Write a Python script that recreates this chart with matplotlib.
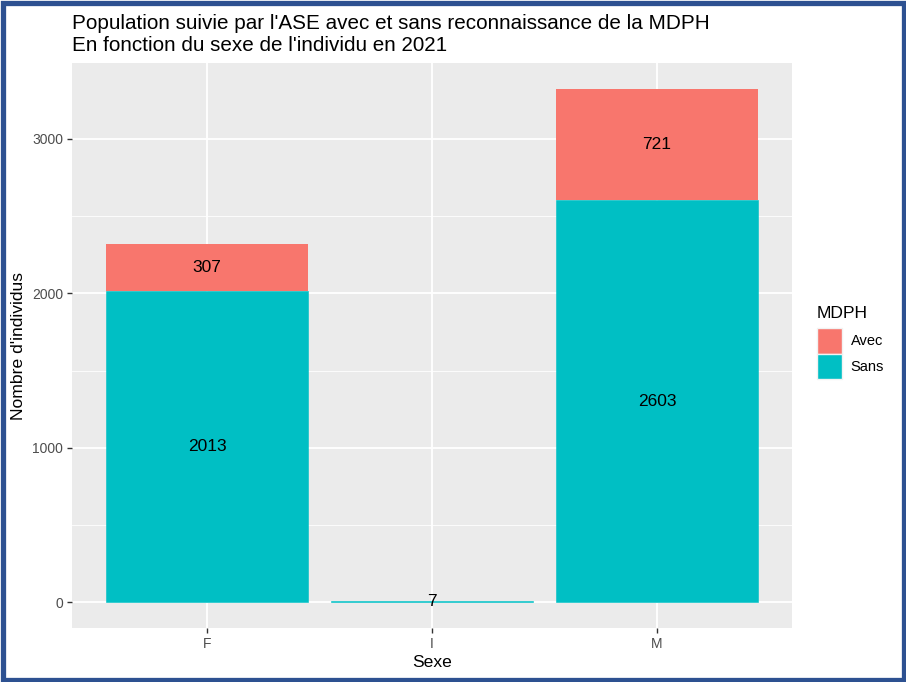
import matplotlib.pyplot as plt
from matplotlib.patches import Rectangle, Patch

plt.rcParams['font.family'] = ['Liberation Sans', 'DejaVu Sans']

sexes = ['F', 'I', 'M']
sans = [2013, 7, 2603]
avec = [307, 0, 721]
groups = ['Avec', 'Sans']
colors = {'Avec': '#F8766D', 'Sans': '#00BFC4'}

W, H = 906, 682
fig = plt.figure(figsize=(W / 100, H / 100), dpi=100)

# blue frame round the picture
fig.patches.append(Rectangle((2.5 / W, 2.5 / H), 1 - 5 / W, 1 - 5 / H,
                             transform=fig.transFigure, fill=False,
                             edgecolor='#2D5191', linewidth=3.8))

ax = fig.add_axes([72 / W, (H - 628) / H, 720 / W, 565 / H])
ax.set_facecolor('#EBEBEB')

x = range(len(sexes))
ax.bar(x, sans, width=0.9, color=colors['Sans'], edgecolor=colors['Sans'],
       linewidth=0.4, zorder=2)
ax.bar(x, avec, bottom=sans, width=0.9, color=colors['Avec'], zorder=2)

for i in x:
    ax.text(i, sans[i] / 2, str(sans[i]), ha='center', va='center', fontsize=12.5, zorder=3)
    if avec[i] > 0:
        ax.text(i, sans[i] + avec[i] / 2, str(avec[i]), ha='center', va='center',
                fontsize=12.5, zorder=3)

ax.set_xlim(-0.6, 2.6)
ax.set_ylim(-166, 3490)
ax.set_xticks(list(x))
ax.set_xticklabels(sexes)
ax.set_yticks([0, 1000, 2000, 3000])
ax.set_yticks([500, 1500, 2500], minor=True)
ax.grid(which='major', color='white', linewidth=1.3, zorder=0)
ax.grid(which='minor', axis='y', color='white', linewidth=0.6, zorder=0)
ax.set_axisbelow(True)
for s in ax.spines.values():
    s.set_visible(False)
ax.tick_params(which='major', length=3.5, width=1, color='#333333',
               labelcolor='#4D4D4D', labelsize=10, pad=3)
ax.tick_params(which='minor', length=0)

ax.set_xlabel('Sexe', fontsize=12.6, labelpad=3)
ax.set_ylabel("Nombre d'individus", fontsize=12.6, labelpad=4)

fig.text(72 / W, 1 - 14 / H,
         "Population suivie par l'ASE avec et sans reconnaissance de la MDPH\n"
         "En fonction du sexe de l'individu en 2021",
         ha='left', va='top', fontsize=14.9, linespacing=1.17)

handles = [Patch(facecolor=colors[g], edgecolor='#F2F2F2', label=g) for g in groups]
leg = ax.legend(handles=handles, title='MDPH', loc='center left',
                bbox_to_anchor=(1.016, 0.505), frameon=False, fontsize=10.5,
                title_fontsize=12.6, handlelength=1.72, handleheight=2.3,
                handletextpad=0.62, labelspacing=0.0, alignment='left')
leg._legend_box.sep = 5

fig.savefig('out.png', dpi=100)
